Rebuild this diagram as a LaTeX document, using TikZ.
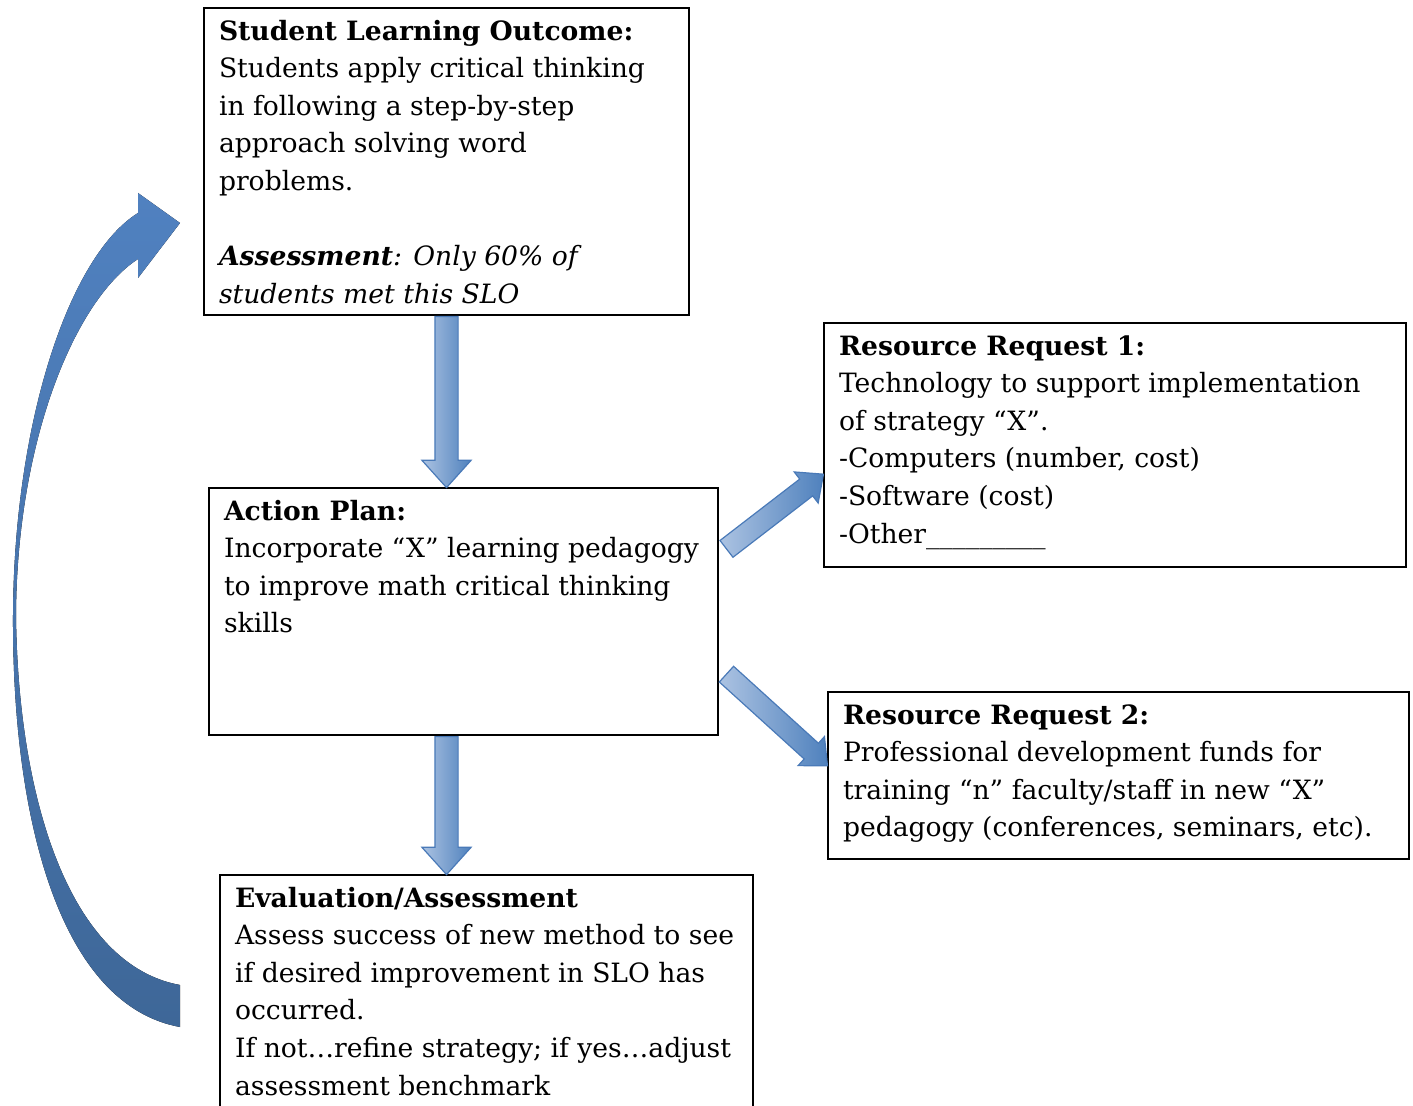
\documentclass[tikz,border=0pt]{standalone}
\usepackage{fontspec}
\setmainfont{DejaVu Serif}
\usetikzlibrary{arrows, positioning, shapes.arrows, calc}
\definecolor{arrowlight}{RGB}{172,195,226}
\definecolor{arrowdark}{RGB}{79,129,189}
\definecolor{arrowedge}{RGB}{74,122,184}
\definecolor{curvetop}{RGB}{80,129,192}
\definecolor{curvemid}{RGB}{98,145,205}
\definecolor{curvedark}{RGB}{62,103,152}
\newcommand{\boxtext}[3]{\vbox to \dimexpr#2-5.7pt\relax{\hsize=\dimexpr#1-15pt\relax\parindent=0pt\raggedright\strut#3\par\vfil}}
\newcommand{\blockarrow}[4][]{\path let \p1=($(#4)-(#3)$), \n1={atan2(\y1,\x1)}, \n2={veclen(\x1,\y1)} in (#3) node[flowarrow, #1, minimum height=\n2, rotate=\n1, anchor=tail] (#2) {};}

\begin{document}
\begin{tikzpicture}[x=0.5pt, y=-0.5pt]
\tikzset{textbox/.style={draw, line width=1pt, anchor=north west, inner xsep=7.5pt, inner ysep=2.85pt, font=\fontsize{13.3pt}{18.8pt}\selectfont},
		flowarrow/.style={single arrow, draw=arrowedge, line width=0.6pt, inner xsep=0pt, inner ysep=5.5pt, minimum width=24pt, single arrow head extend=6.5pt, single arrow tip angle=84, left color=arrowlight, right color=arrowdark},
		slimarrow/.style={inner ysep=5pt, minimum width=19pt, single arrow head extend=4.5pt}}
\useasboundingbox (0,0) rectangle (1413,1106);
\node[textbox] (SLO) at (203,7) {\boxtext{242.5pt}{153.5pt}{\textbf{Student Learning Outcome:}\\ Students apply critical thinking\\ in following a step-by-step\\ approach solving word\\ problems.\\[18.8pt] \textbf{\textit{Assessment}}\textit{: Only 60\% of}\\ \textit{students met this SLO}}};
\node[textbox] (AP) at (208,487) {\boxtext{254.5pt}{123.5pt}{\textbf{Action Plan:}\\ Incorporate “X” learning pedagogy\\ to improve math critical thinking\\ skills}};
\node[textbox] (EA) at (219,874) {\boxtext{266.5pt}{130pt}{\textbf{Evaluation/Assessment}\\ Assess success of new method to see\\ if desired improvement in SLO has\\ occurred.\\ If not…refine strategy; if yes…adjust\\ assessment benchmark}};
\node[textbox] (RR1) at (823,322) {\boxtext{291pt}{122pt}{\textbf{Resource Request 1:}\\ Technology to support implementation\\ of strategy “X”.\\ -Computers (number, cost)\\ -Software (cost)\\ -Other\_\_\_\_\_\_\_\_\_}};
\node[textbox] (RR2) at (827,691) {\boxtext{290.5pt}{83.5pt}{\textbf{Resource Request 2:}\\ Professional development funds for\\ training “n” faculty/staff in new “X”\\ pedagogy (conferences, seminars, etc).}};
\coordinate (down1) at (SLO.south |- AP.north);
\coordinate (down2s) at (AP.south -| SLO.south);
\coordinate (down2e) at (EA.north -| SLO.south);
\coordinate (up1s) at ($(AP.north east)!0.25!(AP.south east)+(7,0)$);
\coordinate (up1e) at ($(RR1.north west)!0.62!(RR1.south west)$);
\coordinate (up2s) at ($(AP.north east)!0.75!(AP.south east)+(7,0)$);
\coordinate (up2e) at ($(RR2.north west)!0.44!(RR2.south west)$);
\blockarrow{SA}{SLO.south}{down1}
\blockarrow{AE}{down2s}{down2e}
\blockarrow[slimarrow]{AR1}{up1s}{up1e}
\blockarrow[slimarrow]{AR2}{up2s}{up2e}
\coordinate (loopstart) at (180,1006);
\coordinate (looptip) at (180,223);
\fill[top color=curvetop, middle color=curvemid, bottom color=curvedark]
	(180,1027) .. controls (60,1005) and (12,820) .. (13,615)
	.. controls (14,420) and (70,255) .. (138,213)
	-- (138,193) -- (looptip) -- (138,278) -- (138,259)
	.. controls (75,300) and (17,440) .. (16,615)
	.. controls (18,800) and (70,965) .. (180,985) -- cycle;
\end{tikzpicture}
\end{document}
